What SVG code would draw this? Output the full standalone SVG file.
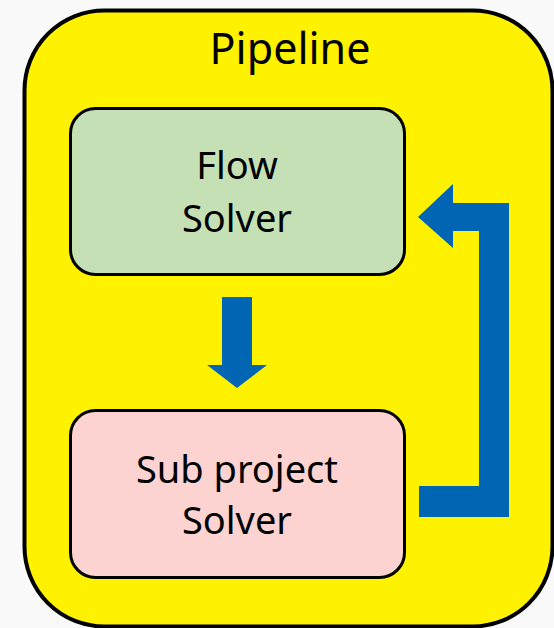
<svg xmlns="http://www.w3.org/2000/svg" width="554" height="628" viewBox="0 0 554 628">
<style>
.box{stroke:#000;stroke-width:3}
.t{font-family:"Noto Sans","Open Sans",sans-serif;fill:#000;text-anchor:middle}
.n{font-size:38px}
.arr{fill:#0066b3}
</style>
<rect width="554" height="628" fill="#f9f9f9"/>
<g id="pipeline">
<rect x="24.5" y="10.5" width="528" height="616" rx="80" fill="#fff200" stroke="#000" stroke-width="4"/>
<text class="t" x="290" y="64" font-size="43">Pipeline</text>
</g>
<g id="flow-solver">
<rect class="box" x="70.5" y="108.5" width="334" height="166" rx="25" fill="#c5e0b4"/>
<text class="t n" x="237" y="179">Flow</text>
<text class="t n" x="237" y="232">Solver</text>
</g>
<g id="sub-project-solver">
<rect class="box" x="70.5" y="410.5" width="334" height="167" rx="25" fill="#fcd3d1"/>
<text class="t n" x="237" y="483">Sub project</text>
<text class="t n" x="237" y="534">Solver</text>
</g>
<g id="connectors">
<polygon class="arr" points="222,297 252,297 252,365 267,365 237,388 207,365 222,365"/>
<polygon class="arr" points="419,486 479,486 479,231 453,231 453,248 418,217 453,184 453,203 509,203 509,517 419,517"/>
</g>
</svg>
